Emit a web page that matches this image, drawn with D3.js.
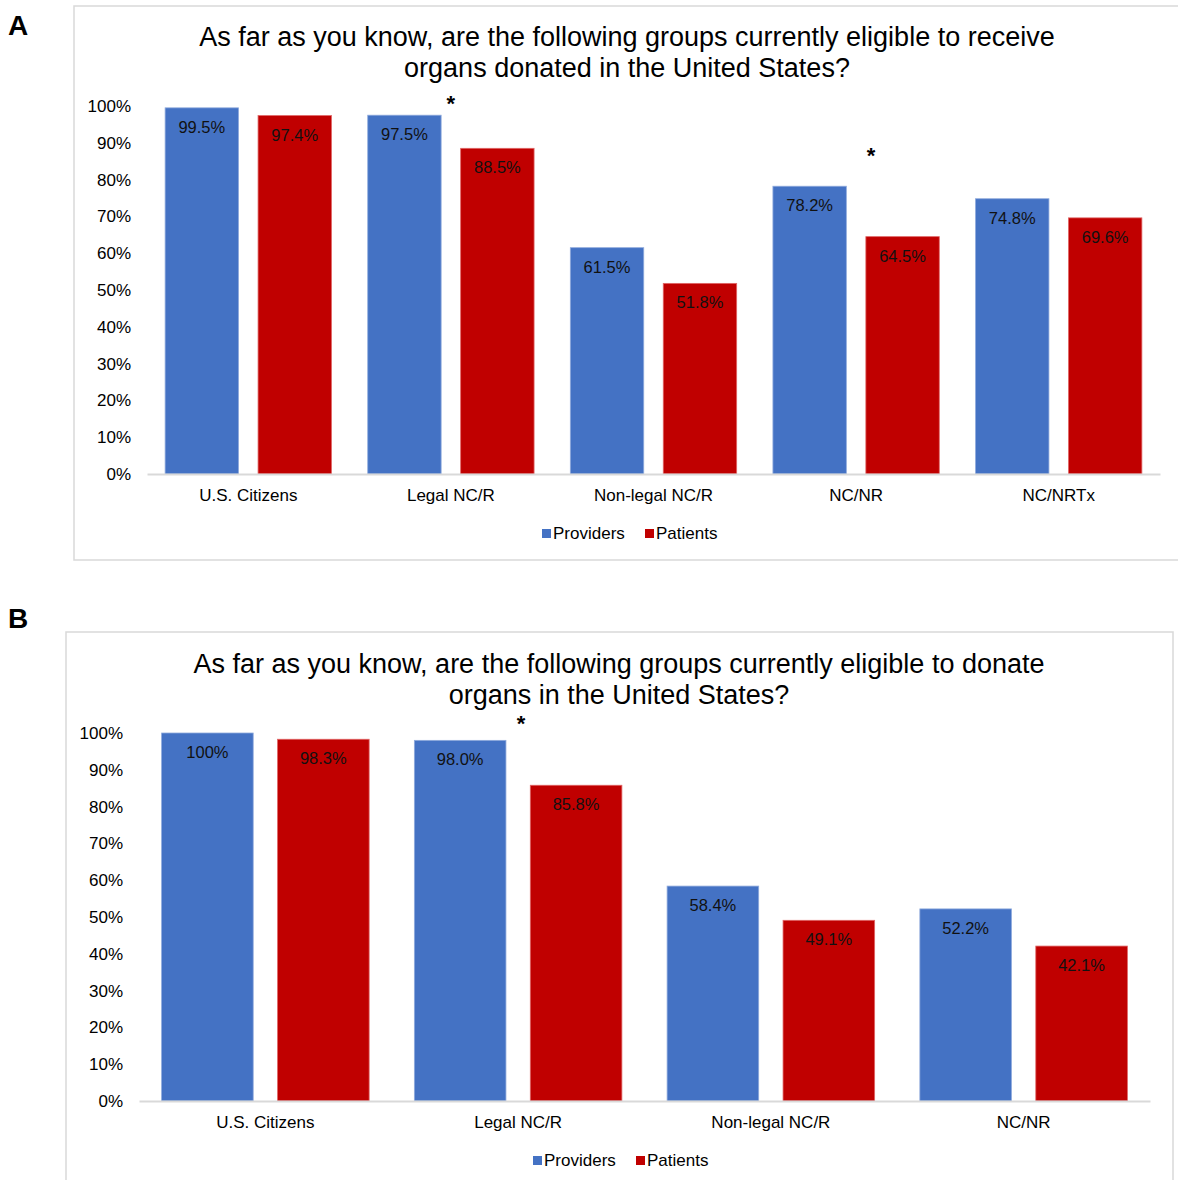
<!DOCTYPE html>
<html>
<head>
<meta charset="utf-8">
<script src="https://cdn.jsdelivr.net/npm/d3@7"></script>
<style>
  html, body { margin: 0; padding: 0; background: #fff; }
  svg { display: block; font-family: "Liberation Sans", Arial, sans-serif; }
</style>
</head>
<body>
<svg id="fig" width="1178" height="1180"></svg>
<script>
// Survey results: share answering "eligible" per group
const series = ["Providers", "Patients"];
const seriesColors = ["#4472C4", "#C00000"];

const receiveCategories = ["U.S. Citizens", "Legal NC/R", "Non-legal NC/R", "NC/NR", "NC/NRTx"];
const receiveProviders = [99.5, 97.5, 61.5, 78.2, 74.8];
const receivePatients  = [97.4, 88.5, 51.8, 64.5, 69.6];
const receiveLabelsProviders = ["99.5%", "97.5%", "61.5%", "78.2%", "74.8%"];
const receiveLabelsPatients  = ["97.4%", "88.5%", "51.8%", "64.5%", "69.6%"];
// significance markers: category and the height (in %) they sit at
const receiveSignificant = ["Legal NC/R", "NC/NR"];
const receiveSignificantLevel = [101.4, 87.1];

const donateCategories = ["U.S. Citizens", "Legal NC/R", "Non-legal NC/R", "NC/NR"];
const donateProviders = [100, 98.0, 58.4, 52.2];
const donatePatients  = [98.3, 85.8, 49.1, 42.1];
const donateLabelsProviders = ["100%", "98.0%", "58.4%", "52.2%"];
const donateLabelsPatients  = ["98.3%", "85.8%", "49.1%", "42.1%"];
const donateSignificant = ["Legal NC/R"];
const donateSignificantLevel = [103.3];

const yTicks = [0, 10, 20, 30, 40, 50, 60, 70, 80, 90, 100];

const svg = d3.select("#fig");

function panel(cfg) {
  const g = svg.append("g");

  // frame
  g.append("rect")
    .attr("x", cfg.frame[0]).attr("y", cfg.frame[1])
    .attr("width", cfg.frame[2]).attr("height", cfg.frame[3])
    .attr("fill", "none").attr("stroke", "#d9d9d9").attr("stroke-width", 1.5);

  // panel letter
  g.append("text")
    .attr("x", 8).attr("y", cfg.letterY)
    .attr("font-size", 28).attr("font-weight", "bold")
    .text(cfg.letter);

  // title
  const title = g.append("text")
    .attr("text-anchor", "middle")
    .attr("font-size", 27).attr("fill", "#000");
  cfg.title.forEach((line, i) => {
    title.append("tspan").attr("x", cfg.titleX).attr("y", cfg.titleY + i * 31).text(line);
  });

  const y = d3.scaleLinear().domain([0, 100]).range([cfg.y0, cfg.y100]);
  const x0 = d3.scaleBand().domain(cfg.categories).range(cfg.xRange).paddingInner(0).paddingOuter(0);
  const x1 = d3.scaleBand().domain(series).range([0, x0.bandwidth()]).paddingInner(0.21).paddingOuter(0.195);

  // y axis labels
  const yAxis = d3.axisLeft(y).tickValues(yTicks).tickFormat(d => d + "%").tickSize(0).tickPadding(0);
  const ya = g.append("g").attr("transform", `translate(${cfg.yLabelX},0)`).call(yAxis);
  ya.select(".domain").remove();
  ya.selectAll("text").attr("font-size", 17).attr("fill", "#000").attr("font-family", "Liberation Sans, Arial, sans-serif");

  // bars
  const rows = cfg.categories.map((c, i) => ({
    cat: c,
    vals: [
      { s: series[0], v: cfg.providers[i], label: cfg.labelsProviders[i] },
      { s: series[1], v: cfg.patients[i], label: cfg.labelsPatients[i] }
    ]
  }));

  const grp = g.selectAll("g.cat").data(rows).join("g")
    .attr("class", "cat")
    .attr("transform", d => `translate(${x0(d.cat)},0)`);

  grp.selectAll("rect").data(d => d.vals).join("rect")
    .attr("x", d => x1(d.s))
    .attr("y", d => y(d.v))
    .attr("width", x1.bandwidth())
    .attr("height", d => y(0) - y(d.v))
    .attr("fill", (d, i) => seriesColors[i])
    .attr("stroke", (d, i) => i === 0 ? "#8faadc" : "#e06666")
    .attr("stroke-width", 0.8);

  grp.selectAll("text.val").data(d => d.vals).join("text")
    .attr("class", "val")
    .attr("x", d => x1(d.s) + x1.bandwidth() / 2)
    .attr("y", d => y(d.v) + 25)
    .attr("text-anchor", "middle")
    .attr("font-size", 16.5)
    .attr("fill", "#111")
    .text(d => d.label);

  // baseline axis
  const xAxis = d3.axisBottom(x0).tickSize(0).tickPadding(0);
  const xa = g.append("g").attr("transform", `translate(0,${y(0)})`).call(xAxis);
  xa.select(".domain").attr("stroke", "#d9d9d9").attr("stroke-width", 2);
  xa.selectAll("text").attr("font-size", 17).attr("fill", "#000")
    .attr("font-family", "Liberation Sans, Arial, sans-serif")
    .attr("dy", null).attr("y", 27);

  // significance markers
  cfg.significant.forEach((c, k) => {
    g.append("text")
      .attr("x", x0(c) + x0.bandwidth() / 2 + cfg.starShift[k])
      .attr("y", y(cfg.significantLevel[k]) + 10)
      .attr("text-anchor", "middle")
      .attr("font-size", 22).attr("font-weight", "bold")
      .text("*");
  });

  // legend
  const leg = g.append("g").attr("transform", `translate(${cfg.legendX},${cfg.legendY})`);
  const items = [{ s: series[0], dx: 0 }, { s: series[1], dx: 103 }];
  items.forEach((it, i) => {
    leg.append("rect").attr("x", it.dx).attr("y", -10).attr("width", 9).attr("height", 9).attr("fill", seriesColors[i]);
    leg.append("text").attr("x", it.dx + 11).attr("y", 0).attr("font-size", 17).attr("fill", "#000").text(it.s);
  });
}

panel({
  letter: "A", letterY: 35,
  frame: [74, 6, 1110, 554],
  title: ["As far as you know, are the following groups currently eligible to receive",
          "organs donated in the United States?"],
  titleX: 627, titleY: 46,
  categories: receiveCategories,
  providers: receiveProviders, patients: receivePatients,
  labelsProviders: receiveLabelsProviders, labelsPatients: receiveLabelsPatients,
  significant: receiveSignificant, significantLevel: receiveSignificantLevel, starShift: [0, 15],
  y0: 474, y100: 106, xRange: [147, 1160], yLabelX: 131,
  legendX: 542, legendY: 539
});

panel({
  letter: "B", letterY: 628,
  frame: [66, 632, 1107, 560],
  title: ["As far as you know, are the following groups currently eligible to donate",
          "organs in the United States?"],
  titleX: 619, titleY: 673,
  categories: donateCategories,
  providers: donateProviders, patients: donatePatients,
  labelsProviders: donateLabelsProviders, labelsPatients: donateLabelsPatients,
  significant: donateSignificant, significantLevel: donateSignificantLevel, starShift: [3],
  y0: 1101, y100: 733, xRange: [139, 1150], yLabelX: 123,
  legendX: 533, legendY: 1166
});
</script>
</body>
</html>
